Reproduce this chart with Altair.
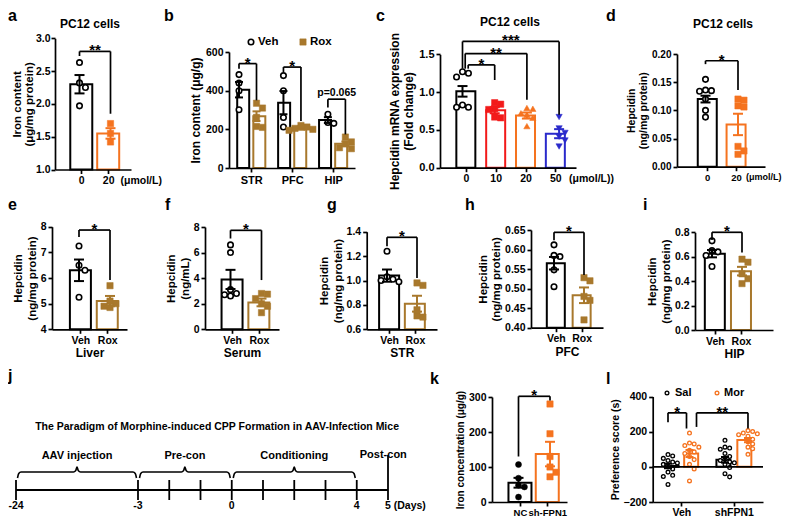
import altair as alt
import pandas as pd

W, H, M = 774, 512, 8
FONT = "Liberation Sans"
BLACK, ORANGE, BROWN, RED, BLUE = "#000000", "#F5731F", "#A8782C", "#F21A1A", "#2A2ACB"

# ================= values =================
A_CATS = ["0", "20"]
A_MEAN = [2.30, 1.55]
A_SEM = [0.14, 0.08]
A_PTS = [[2.63, 2.32, 2.25, 1.97], [1.70, 1.55, 1.42]]
A_SIG = [("**", 0, 1, 2.80, 2.73, 1.85)]

B_REGIONS = ["STR", "PFC", "HIP"]
B_VEH_MEAN = [405, 338, 248]
B_VEH_SEM = [40, 60, 15]
B_VEH_PTS = [[483, 440, 400, 301], [478, 400, 261, 212], [278, 235, 231]]
B_ROX_MEAN = [268, 206, 125]
B_ROX_SEM = [25, 8, 12]
B_ROX_PTS = [[335, 310, 262, 215, 210], [220, 212, 205, 200, 195], [160, 135, 125, 105, 100]]
B_SIG = [("*", 0, 1, 540, 513, 350), ("*", 2, 3, 522, 496, 243), ("p=0.065", 4, 5, 356, 313, 174)]

C_CATS = ["0", "10", "20", "50"]
C_MEAN = [1.01, 0.76, 0.69, 0.45]
C_SEM = [0.07, 0.04, 0.04, 0.06]
C_PTS = [[1.27, 1.25, 1.20, 0.83, 0.80, 0.80],
         [0.86, 0.84, 0.78, 0.77, 0.67, 0.66],
         [0.79, 0.78, 0.72, 0.70, 0.66, 0.55],
         [0.67, 0.52, 0.46, 0.41, 0.36, 0.28]]
C_SIG = [("*", 0, 1, 1.36, 1.31, 1.16), ("**", 0, 2, 1.51, 1.31, 0.90), ("***", 0, 3, 1.67, 1.31, 0.70)]

D_CATS = ["0", "20"]
D_MEAN = [0.120, 0.075]
D_SEM = [0.006, 0.019]
D_PTS = [[0.155, 0.136, 0.135, 0.134, 0.120, 0.100, 0.088],
         [0.120, 0.118, 0.108, 0.106, 0.036, 0.028, 0.022]]
D_SIG = [("*", 0, 1, 0.188, 0.182, 0.136)]

VR_CATS = ["Veh", "Rox"]
E_MEAN, E_SEM = [6.30, 5.10], [0.42, 0.20]
E_PTS = [[7.25, 6.50, 6.30, 5.25], [5.70, 5.10, 5.00, 4.90, 4.85]]
E_SIG = [("*", 0, 1, 7.87, 7.60, 5.92)]
F_MEAN, F_SEM = [3.90, 2.10], [0.75, 0.30]
F_PTS = [[6.60, 6.00, 3.10, 2.80, 2.70, 2.60], [2.80, 2.75, 2.40, 2.00, 1.80, 1.30]]
F_SIG = [("*", 0, 1, 7.74, 7.10, 3.85)]
G_MEAN, G_SEM = [1.04, 0.81], [0.05, 0.065]
G_PTS = [[1.24, 1.03, 1.01, 1.00, 0.99], [0.98, 0.96, 0.76, 0.71, 0.70]]
G_SIG = [("*", 0, 1, 1.354, 1.28, 1.02)]
H_MEAN, H_SEM = [0.565, 0.483], [0.016, 0.020]
H_PTS = [[0.612, 0.585, 0.582, 0.548, 0.505], [0.528, 0.520, 0.480, 0.470, 0.420]]
H_SIG = [("*", 0, 1, 0.644, 0.624, 0.535)]
I_MEAN, I_SEM = [0.625, 0.482], [0.030, 0.035]
I_PTS = [[0.73, 0.65, 0.64, 0.61, 0.52], [0.58, 0.555, 0.46, 0.42, 0.38]]
I_SIG = [("*", 0, 1, 0.80, 0.737, 0.634)]

K_CATS = ["NC", "sh-FPN1"]
K_MEAN, K_SEM = [55, 137], [14, 35]
K_PTS = [[107, 68, 48, 43, 14], [280, 195, 130, 100, 85, 72]]
K_SIG = [("*", 0, 1, 302, 130, 290)]

L_GROUPS = ["Veh", "shFPN1"]
L_SAL_MEAN, L_SAL_SEM = [5, 40], [13, 16]
L_MOR_MEAN, L_MOR_SEM = [76, 152], [20, 12]
L_SAL_PTS = [[70, 62, 48, 36, 27, 22, 14, 5, -12, -30, -48, -55, -100],
             [151, 112, 107, 100, 76, 59, 41, 36, 28, 23, 14, -4, -39, -57]]
L_MOR_PTS = [[192, 135, 130, 121, 112, 94, 85, 76, 59, 41, 14, -12, -80],
             [206, 201, 192, 188, 183, 174, 157, 142, 130, 112, 103, 71]]
L_SIG = [("*", 0, 1, 307, 254, 218), ("**", 1, 3, 307, 227, 218)]

J_TITLE = "The Paradigm of Morphine-induced CPP Formation in AAV-Infection Mice"
J_PHASES = ["AAV injection", "Pre-con", "Conditioning"]
J_PHASE_START = [-24, -3, 0]
J_PHASE_END = [-3, 0, 4]
J_TICK_DAYS = [-24, -3, -2, -1, 0, 1, 2, 3, 4, 5]
J_LABEL_DAYS = [-24, -3, 0, 4]
J_LABELS = ["-24", "-3", "0", "4"]
J_LAST_DAY, J_LAST_LABEL = 5, "5 (Days)"
J_POST = "Post-con"

# ================= layout (page pixels) =================
LAY = {
    "a": dict(xl=55, xr=131, yb=169.5, yt=38.3, p0=79.5, k=31, bw=22),
    "b": dict(xl=229, xr=355, yb=168, yt=52, p0=239, k=17.5, bw=12),
    "c": dict(xl=440, xr=576, yb=167.7, yt=54.3, p0=462.5, k=32.2, bw=19),
    "d": dict(xl=677, xr=765, yb=166.7, yt=54, p0=705.5, k=32.5, bw=19),
    "e": dict(xl=52, xr=127, yb=329.3, yt=226.7, p0=79, k=31, bw=21),
    "f": dict(xl=205, xr=279, yb=329.3, yt=227, p0=230.5, k=31, bw=21),
    "g": dict(xl=366.7, xr=437, yb=329.3, yt=231.7, p0=387, k=30, bw=20),
    "h": dict(xl=531, xr=603, yb=327.7, yt=230, p0=554, k=30, bw=18),
    "i": dict(xl=695, xr=773, yb=330, yt=232.3, p0=712, k=30, bw=20),
    "k": dict(xl=492, xr=567, yb=502, yt=397, p0=518.5, k=31.5, bw=23),
    "l": dict(xl=652.7, xr=763, yb=502, yt=396.5, p0=668, k=21.5, bw=14),
}
B_POS = [0, 1, 2.54, 3.54, 5.08, 6.08]
L_POS = [0, 1, 2.65, 3.72]
LETTERS = [("a", 2, 21), ("b", 164, 21), ("c", 376, 21), ("d", 606, 21),
           ("e", 2, 210), ("f", 165, 210), ("g", 327, 210), ("h", 465, 210), ("i", 643, 210),
           ("j", 4, 381), ("k", 430, 384), ("l", 606, 384)]
PC12_TITLES = [(90, 24), (510, 22), (723, 24)]
J_PX = [16, 138, 388]   # pixel positions of day -24, -3, 5
J_LINE_Y = 490

AX = dict(grid=False, domainColor="black", domainWidth=1.7, tickColor="black", tickWidth=1.7,
          tickSize=4, labelFont=FONT, labelFontWeight="bold", labelColor="black",
          titleFont=FONT, titleFontWeight="bold", titleColor="black", labelFlush=False,
          labelOverlap=False, zindex=1)


def lab_expr(ticks, labels):
    e = "''"
    for t, l in reversed(list(zip(ticks, labels))):
        e = f"abs(datum.value - ({t})) < 0.001 ? '{l}' : ({e})"
    return e


def scales(L, ydom):
    xs = alt.Scale(domain=[(L["xl"] - L["p0"]) / L["k"], (L["xr"] - L["p0"]) / L["k"]],
                   range=[L["xl"] - M, L["xr"] - M], nice=False, zero=False)
    ys = alt.Scale(domain=list(ydom), range=[L["yb"] - M, L["yt"] - M], nice=False, zero=False)
    return xs, ys


def swarm(vals, kx, ky, diam):
    placed, res = [], [0.0] * len(vals)
    order = sorted(range(len(vals)), key=lambda i: -vals[i])
    for i in order:
        y = vals[i] * ky
        o = 0.0
        for cand in [0, 1, -1, 2, -2, 3, -3]:
            o = cand * diam * 0.85
            if all((o - po) ** 2 + (y - py) ** 2 >= (diam * 0.85) ** 2 for po, py in placed):
                break
        placed.append((o, y))
        res[i] = o / kx
    return res


def panel(key, ydom, yticks, yfmt, ytitle, bars, xticks, xlabels, sigs, xtitle=None,
          base=None, lab_size=10.5, xlab_size=10.5, ttl_size=11, diam=7, sig_dx=None,
          star_size=15, cap=10, ttl_pad=3, ttl_lh=None, xlab_pad=2, ylab_pad=2):
    L = LAY[key]
    xs, ys = scales(L, ydom)
    kx = L["k"]
    ky = (L["yb"] - L["yt"]) / (ydom[1] - ydom[0])
    base = ydom[0] if base is None else base
    xa = alt.Axis(orient="bottom", offset=(L["yb"] - M) - H, values=xticks,
                  labelExpr=lab_expr(xticks, xlabels), title=xtitle, labelFontSize=xlab_size,
                  titleFontSize=12, titlePadding=2, labelPadding=xlab_pad, **AX)
    yextra = {} if ttl_lh is None else {"titleLineHeight": ttl_lh}
    ya = alt.Axis(orient="left", offset=-(L["xl"] - M), values=yticks, format=yfmt,
                  title=ytitle, labelFontSize=lab_size, titleFontSize=ttl_size,
                  titlePadding=ttl_pad, labelPadding=ylab_pad, **yextra, **AX)
    out = []
    for n, b in enumerate(bars):
        df = pd.DataFrame({"x": [b["pos"]], "m": [b["mean"]], "b0": [base]})
        out.append(alt.Chart(df).mark_bar(width=L["bw"], fill="white", stroke=b["color"],
                                          strokeWidth=2).encode(
            x=alt.X("x:Q", scale=xs, axis=xa if n == 0 else None),
            y=alt.Y("m:Q", scale=ys, axis=ya if n == 0 else None), y2="b0:Q"))
    for b in bars:
        offs = swarm(b["pts"], kx, ky, diam)
        df = pd.DataFrame({"x": [b["pos"] + o for o in offs], "v": b["pts"]})
        if b["filled"]:
            mk = alt.Chart(df).mark_point(shape=b["shape"], filled=True, fill=b["color"],
                                          stroke=b["color"], strokeWidth=0.5,
                                          size=b.get("size", 40), opacity=1)
        else:
            mk = alt.Chart(df).mark_point(shape=b["shape"], filled=True, fill="white",
                                          stroke=b["color"], strokeWidth=b.get("sw", 1.6),
                                          size=b.get("size", 30), opacity=1)
        out.append(mk.encode(x=alt.X("x:Q", scale=xs, axis=None),
                             y=alt.Y("v:Q", scale=ys, axis=None)))
    for b in bars:
        lo, hi = b["mean"] - b["sem"], b["mean"] + b["sem"]
        df = pd.DataFrame({"x": [b["pos"]], "lo": [lo], "hi": [hi]})
        out.append(alt.Chart(df).mark_rule(color=b["color"], strokeWidth=2).encode(
            x=alt.X("x:Q", scale=xs, axis=None), y=alt.Y("lo:Q", scale=ys, axis=None), y2="hi:Q"))
        dfc = pd.DataFrame({"x": [b["pos"], b["pos"]], "y": [lo, hi]})
        out.append(alt.Chart(dfc).mark_tick(orient="horizontal", size=cap, thickness=2,
                                            color=b["color"], opacity=1).encode(
            x=alt.X("x:Q", scale=xs, axis=None), y=alt.Y("y:Q", scale=ys, axis=None)))
    segs, stars = [], []
    for s_i, (txt, i, j, lev, yl, yr) in enumerate(sigs):
        dl, dr = sig_dx[s_i] if sig_dx else (0, 0)
        x1 = bars[i]["pos"] + dl / kx
        x2 = bars[j]["pos"] + dr / kx
        segs += [(x1, x2, lev, lev), (x1, x1, lev, yl), (x2, x2, lev, yr)]
        stars.append(((x1 + x2) / 2, lev, txt))
    dfs = pd.DataFrame(segs, columns=["x", "x2", "y", "y2"])
    out.append(alt.Chart(dfs).mark_rule(color="black", strokeWidth=1.7).encode(
        x=alt.X("x:Q", scale=xs, axis=None), x2="x2:Q",
        y=alt.Y("y:Q", scale=ys, axis=None), y2="y2:Q"))
    dst = pd.DataFrame(stars, columns=["x", "y", "t"])
    big = dst[dst["t"].str.startswith("*")]
    small = dst[~dst["t"].str.startswith("*")]
    if len(big):
        out.append(alt.Chart(big).mark_text(font=FONT, fontSize=star_size, fontWeight="bold",
                                            baseline="alphabetic", dy=4, color="black").encode(
            x=alt.X("x:Q", scale=xs, axis=None), y=alt.Y("y:Q", scale=ys, axis=None), text="t:N"))
    if len(small):
        out.append(alt.Chart(small).mark_text(font=FONT, fontSize=10.5, fontWeight="bold",
                                              baseline="alphabetic", dy=-3, color="black").encode(
            x=alt.X("x:Q", scale=xs, axis=None), y=alt.Y("y:Q", scale=ys, axis=None), text="t:N"))
    return out, xs, ys


def unit_text(xs, ys, x, y, txt, size=10.5, dx=10):
    df = pd.DataFrame({"x": [x], "y": [y], "t": [txt]})
    return alt.Chart(df).mark_text(font=FONT, fontSize=size, fontWeight="bold", align="left",
                                   baseline="top", dx=dx, dy=6, color="black").encode(
        x=alt.X("x:Q", scale=xs, axis=None), y=alt.Y("y:Q", scale=ys, axis=None), text="t:N")


def inv_x(key, page_x):
    L = LAY[key]
    return (page_x - L["p0"]) / L["k"]


def inv_y(key, ydom, page_y):
    L = LAY[key]
    return ydom[0] + (L["yb"] - page_y) * (ydom[1] - ydom[0]) / (L["yb"] - L["yt"])


def style(color, shape, filled, **kw):
    d = dict(color=color, shape=shape, filled=filled)
    d.update(kw)
    return d


layers = []

# ---- a ----
ya_dom = (1.0, 3.0)
sty = [style(BLACK, "circle", False), style(ORANGE, "square", True)]
bars = [dict(pos=i, mean=A_MEAN[i], sem=A_SEM[i], pts=A_PTS[i], **sty[i]) for i in range(2)]
lay, xs, ys = panel("a", ya_dom, [1.0, 1.5, 2.0, 2.5, 3.0], ".1f", ["Iron content", "(μg/mg protein)"],
                    bars, [0, 1], A_CATS, A_SIG, lab_size=10.5, ttl_size=11.5, ttl_pad=1,
                    ttl_lh=12, ylab_pad=1)
layers += lay + [unit_text(xs, ys, 1, ya_dom[0], "(μmol/L)")]

# ---- b ----
yb_dom = (0, 600)
bars = []
for r in range(3):
    bars.append(dict(pos=B_POS[2 * r], mean=B_VEH_MEAN[r], sem=B_VEH_SEM[r], pts=B_VEH_PTS[r],
                     **style(BLACK, "circle", False)))
    bars.append(dict(pos=B_POS[2 * r + 1], mean=B_ROX_MEAN[r], sem=B_ROX_SEM[r], pts=B_ROX_PTS[r],
                     **style(BROWN, "square", True)))
gpos = [(B_POS[2 * r] + B_POS[2 * r + 1]) / 2 for r in range(3)]
lay, xs, ys = panel("b", yb_dom, [0, 200, 400, 600], "d", "Iron content (μg/g)", bars, gpos,
                    B_REGIONS, B_SIG, xlab_size=11, cap=8, ttl_size=12)
layers += lay
ly = inv_y("b", yb_dom, 42)
leg = pd.DataFrame({"x": [inv_x("b", 251)], "y": [ly]})
layers.append(alt.Chart(leg).mark_point(shape="circle", filled=True, fill="white", stroke=BLACK,
                                        strokeWidth=1.6, size=30, opacity=1).encode(
    x=alt.X("x:Q", scale=xs, axis=None), y=alt.Y("y:Q", scale=ys, axis=None)))
leg2 = pd.DataFrame({"x": [inv_x("b", 303)], "y": [ly]})
layers.append(alt.Chart(leg2).mark_point(shape="square", filled=True, fill=BROWN, stroke=BROWN,
                                         strokeWidth=0.5, size=40, opacity=1).encode(
    x=alt.X("x:Q", scale=xs, axis=None), y=alt.Y("y:Q", scale=ys, axis=None)))
legt = pd.DataFrame({"x": [inv_x("b", 258), inv_x("b", 310)], "y": [ly, ly], "t": ["Veh", "Rox"]})
layers.append(alt.Chart(legt).mark_text(font=FONT, fontSize=11.5, fontWeight="bold", align="left",
                                        baseline="middle", color="black").encode(
    x=alt.X("x:Q", scale=xs, axis=None), y=alt.Y("y:Q", scale=ys, axis=None), text="t:N"))

# ---- c ----
yc_dom = (0.0, 1.5)
sty = [style(BLACK, "circle", False), style(RED, "square", True),
       style(ORANGE, "triangle-up", True), style(BLUE, "triangle-down", True)]
bars = [dict(pos=i, mean=C_MEAN[i], sem=C_SEM[i], pts=C_PTS[i], **sty[i]) for i in range(4)]
lay, xs, ys = panel("c", yc_dom, [0.0, 0.5, 1.0, 1.5], ".1f",
                    ["Hepcidin mRNA expression", "(Fold change)"], bars, [0, 1, 2, 3], C_CATS, C_SIG,
                    sig_dx=[(5.7, 0), (2.7, 0), (0, 0)], lab_size=11, ttl_size=12)
layers += lay + [unit_text(xs, ys, 3, yc_dom[0], "(μmol/L))")]

# ---- d ----
yd_dom = (0.0, 0.20)
sty = [style(BLACK, "circle", False), style(ORANGE, "square", True)]
bars = [dict(pos=i, mean=D_MEAN[i], sem=D_SEM[i], pts=D_PTS[i], **sty[i]) for i in range(2)]
lay, xs, ys = panel("d", yd_dom, [0.0, 0.05, 0.10, 0.15, 0.20], ".2f",
                    ["Hepcidin", "(ng/mg protein)"], bars, [0, 1], D_CATS, D_SIG, lab_size=10,
                    xlab_size=9.5, ttl_size=10.5)
layers += lay + [unit_text(xs, ys, 1, yd_dom[0], "(μmol/L)", size=9, dx=8)]

# ---- e..i ----
sty = [style(BLACK, "circle", False), style(BROWN, "square", True)]
specs = [
    ("e", (4, 8), [4, 5, 6, 7, 8], "d", ["Hepcidin", "(ng/mg protein)"], E_MEAN, E_SEM, E_PTS, E_SIG, "Liver"),
    ("f", (0, 8), [0, 2, 4, 6, 8], "d", ["Hepcidin", "(ng/mL)"], F_MEAN, F_SEM, F_PTS, F_SIG, "Serum"),
    ("g", (0.6, 1.4), [0.6, 0.8, 1.0, 1.2, 1.4], ".1f", ["Hepcidin", "(ng/mg protein)"], G_MEAN, G_SEM, G_PTS, G_SIG, "STR"),
    ("h", (0.40, 0.65), [0.40, 0.45, 0.50, 0.55, 0.60, 0.65], ".2f", ["Hepcidin", "(ng/mg protein)"], H_MEAN, H_SEM, H_PTS, H_SIG, "PFC"),
    ("i", (0.0, 0.8), [0.0, 0.2, 0.4, 0.6, 0.8], ".1f", ["Hepcidin", "(ng/mg protein)"], I_MEAN, I_SEM, I_PTS, I_SIG, "HIP"),
]
for key, dom, ticks, fmt, ttl, mean, sem, pts, sig, xt in specs:
    bars = [dict(pos=i, mean=mean[i], sem=sem[i], pts=pts[i], **sty[i]) for i in range(2)]
    lay, xs, ys = panel(key, dom, ticks, fmt, ttl, bars, [0, 1], VR_CATS, sig, xtitle=xt,
                        ttl_size=11.5)
    layers += lay

# ---- k ----
sty = [style(BLACK, "circle", True, size=36), style(ORANGE, "square", True)]
bars = [dict(pos=i, mean=K_MEAN[i], sem=K_SEM[i], pts=K_PTS[i], **sty[i]) for i in range(2)]
lay, xs, ys = panel("k", (0, 300), [0, 100, 200, 300], "d", "Iron concentration (μg/g)", bars,
                    [0, 1], K_CATS, K_SIG, xlab_size=9.5, ttl_size=10, xlab_pad=1)
layers += lay

# ---- l ----
yl_dom = (-200, 400)
bars = []
for g in range(2):
    bars.append(dict(pos=L_POS[2 * g], mean=L_SAL_MEAN[g], sem=L_SAL_SEM[g], pts=L_SAL_PTS[g],
                     **style(BLACK, "circle", False, size=14, sw=1.3)))
    bars.append(dict(pos=L_POS[2 * g + 1], mean=L_MOR_MEAN[g], sem=L_MOR_SEM[g], pts=L_MOR_PTS[g],
                     **style(ORANGE, "circle", False, size=14, sw=1.3)))
gpos = [(L_POS[2 * g] + L_POS[2 * g + 1]) / 2 for g in range(2)]
lay, xs, ys = panel("l", yl_dom, [-200, 0, 200, 400], "d", "Preference score (s)", bars, gpos,
                    L_GROUPS, L_SIG, base=0, xlab_size=10.5, ttl_size=10.5, diam=5.5,
                    sig_dx=[(0, -3), (7, 0)], cap=8, xlab_pad=1)
layers += lay
zl = pd.DataFrame({"x": [xs.domain[0]], "x2": [xs.domain[1]], "y": [0]})
layers.append(alt.Chart(zl).mark_rule(color="black", strokeWidth=1.6).encode(
    x=alt.X("x:Q", scale=xs, axis=None), x2="x2:Q", y=alt.Y("y:Q", scale=ys, axis=None)))
lly = inv_y("l", yl_dom, 393)
for cx, tx, col, lab in [(667, 675, BLACK, "Sal"), (717, 724, ORANGE, "Mor")]:
    dfp = pd.DataFrame({"x": [inv_x("l", cx)], "y": [lly]})
    layers.append(alt.Chart(dfp).mark_point(shape="circle", filled=True, fill="white", stroke=col,
                                            strokeWidth=1.3, size=14, opacity=1).encode(
        x=alt.X("x:Q", scale=xs, axis=None), y=alt.Y("y:Q", scale=ys, axis=None)))
    dft = pd.DataFrame({"x": [inv_x("l", tx)], "y": [lly], "t": [lab]})
    layers.append(alt.Chart(dft).mark_text(font=FONT, fontSize=11, fontWeight="bold", align="left",
                                           baseline="middle", color="black").encode(
        x=alt.X("x:Q", scale=xs, axis=None), y=alt.Y("y:Q", scale=ys, axis=None), text="t:N"))

# ---- j : timeline ----
jx = alt.Scale(domain=[-24, -3, 5], range=[p - M for p in J_PX], nice=False, zero=False)
jy = alt.Scale(domain=[-4, 14], range=[J_LINE_Y + 20 - M, J_LINE_Y - 70 - M], nice=False, zero=False)
JX = lambda f: alt.X(f, scale=jx, axis=None)
JY = lambda f: alt.Y(f, scale=jy, axis=None)

tl = pd.DataFrame({"x": [J_TICK_DAYS[0]], "x2": [J_LAST_DAY], "y": [0]})
layers.append(alt.Chart(tl).mark_rule(color="black", strokeWidth=2).encode(
    x=JX("x:Q"), x2="x2:Q", y=JY("y:Q")))
tk = pd.DataFrame({"x": J_TICK_DAYS, "lo": [-2] * len(J_TICK_DAYS),
                   "hi": [7 if d == J_LAST_DAY else 2 for d in J_TICK_DAYS]})
layers.append(alt.Chart(tk).mark_rule(color="black", strokeWidth=1.8).encode(
    x=JX("x:Q"), y=JY("lo:Q"), y2="hi:Q"))


def seg_slope(a):
    return (J_PX[1] - J_PX[0]) / 21.0 if a < -3 else (J_PX[2] - J_PX[1]) / 8.0


rows = []
for ph, a, b in zip(J_PHASES, J_PHASE_START, J_PHASE_END):
    s = seg_slope(a)
    i, c, mid = 1.5 / s, 3.5 / s, (a + b) / 2
    xsq = [a + i, a + i + 0.35 * c, a + i + c, mid - c, mid - 0.35 * c, mid,
           mid + 0.35 * c, mid + c, b - i - c, b - i - 0.35 * c, b - i]
    ysq = [2.4, 3.3, 3.6, 3.6, 3.9, 4.6, 3.9, 3.6, 3.6, 3.3, 2.4]
    for o, (xx, yy) in enumerate(zip(xsq, ysq)):
        rows.append((ph, o, xx, yy))
br = pd.DataFrame(rows, columns=["p", "o", "x", "y"])
layers.append(alt.Chart(br).mark_line(color="black", strokeWidth=1.6, interpolate="monotone").encode(
    x=JX("x:Q"), y=JY("y:Q"), detail="p:N", order="o:Q"))
bl = pd.DataFrame({"x": [(a + b) / 2 for a, b in zip(J_PHASE_START, J_PHASE_END)],
                   "y": [6.9] * 3, "t": J_PHASES})
layers.append(alt.Chart(bl).mark_text(font=FONT, fontSize=11, fontWeight="bold", baseline="middle",
                                      color="black").encode(x=JX("x:Q"), y=JY("y:Q"), text="t:N"))
pc = pd.DataFrame({"x": [J_LAST_DAY - 0.15], "y": [6.5], "t": [J_POST]})
layers.append(alt.Chart(pc).mark_text(font=FONT, fontSize=11, fontWeight="bold", baseline="middle",
                                      color="black", dy=-3).encode(x=JX("x:Q"), y=JY("y:Q"), text="t:N"))
dl = pd.DataFrame({"x": J_LABEL_DAYS, "y": [0] * len(J_LABEL_DAYS), "t": J_LABELS})
layers.append(alt.Chart(dl).mark_text(font=FONT, fontSize=10.5, fontWeight="bold", baseline="middle",
                                      dy=16, color="black").encode(x=JX("x:Q"), y=JY("y:Q"), text="t:N"))
dl5 = pd.DataFrame({"x": [J_LAST_DAY], "y": [0], "t": [J_LAST_LABEL]})
layers.append(alt.Chart(dl5).mark_text(font=FONT, fontSize=10.5, fontWeight="bold", baseline="middle",
                                       align="left", dx=-3, dy=16, color="black").encode(
    x=JX("x:Q"), y=JY("y:Q"), text="t:N"))
jt = pd.DataFrame({"x": [-0.47], "y": [12.6], "t": [J_TITLE]})
layers.append(alt.Chart(jt).mark_text(font=FONT, fontSize=10.5, fontWeight="bold", baseline="middle",
                                      color="black").encode(x=JX("x:Q"), y=JY("y:Q"), text="t:N"))

# ---- panel letters and titles ----
one = pd.DataFrame({"t": [""]})
for let, x, y in LETTERS:
    layers.append(alt.Chart(one).mark_text(text=let, font=FONT, fontSize=16, fontWeight="bold",
                                           align="left", baseline="alphabetic", color="black").encode(
        x=alt.value(max(x - M, 0)), y=alt.value(y - M)))
for x, y in PC12_TITLES:
    layers.append(alt.Chart(one).mark_text(text="PC12 cells", font=FONT, fontSize=12, fontWeight="bold",
                                           baseline="middle", color="black").encode(
        x=alt.value(x - M), y=alt.value(y - M)))

chart = alt.layer(*layers).resolve_scale(x="independent", y="independent").resolve_axis(
    x="independent", y="independent").properties(
    width=W, height=H, autosize=alt.AutoSizeParams(type="none"), padding=0, background="white"
).configure_view(stroke=None)

chart.save("out.html", embed_options={"renderer": "svg", "actions": False})
